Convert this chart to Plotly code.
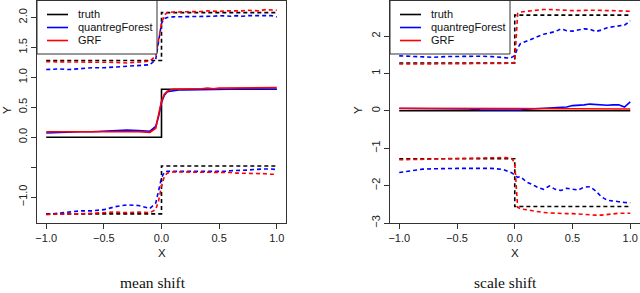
import plotly.graph_objects as go

W, H = 640, 293

# ---------------- data ----------------
x_grid = [-1.0, -0.9, -0.8, -0.7, -0.6, -0.5, -0.4, -0.3, -0.2, -0.1,
          -0.05, -0.025, 0.0, 0.025, 0.05,
          0.1, 0.15, 0.2, 0.25, 0.3, 0.35, 0.4, 0.45, 0.5, 0.55, 0.6, 0.65,
          0.7, 0.75, 0.8, 0.85, 0.9, 0.95, 1.0]
truth_x = [-1.0, 0.0, 1.0]

# mean shift panel
mean_truth_med = [0.0, 0.8, 0.8]
mean_truth_hi = [1.28, 2.08, 2.08]
mean_truth_lo = [-1.28, -0.48, -0.48]

mean_qrf_med = [0.07, 0.08, 0.09, 0.09, 0.09, 0.10, 0.11, 0.12, 0.11, 0.10,
                0.18, 0.35, 0.58, 0.70, 0.76,
                0.78, 0.79, 0.79, 0.79, 0.80, 0.80, 0.80, 0.80, 0.80, 0.80,
                0.80, 0.81, 0.81, 0.81, 0.80, 0.81, 0.80, 0.80, 0.80]
mean_grf_med = [0.09, 0.09, 0.10, 0.09, 0.09, 0.10, 0.10, 0.10, 0.09, 0.08,
                0.15, 0.38, 0.60, 0.72, 0.77,
                0.80, 0.80, 0.81, 0.81, 0.81, 0.81, 0.82, 0.81, 0.82, 0.82,
                0.82, 0.82, 0.82, 0.82, 0.82, 0.83, 0.82, 0.83, 0.83]
mean_qrf_hi = [1.13, 1.14, 1.13, 1.15, 1.16, 1.16, 1.17, 1.18, 1.19, 1.21,
               1.30, 1.60, 1.90, 1.98, 2.00,
               2.01, 2.01, 2.02, 2.01, 2.02, 2.02, 2.02, 2.02, 2.03, 2.02,
               2.02, 2.03, 2.02, 2.03, 2.03, 2.04, 2.04, 2.03, 2.01]
mean_grf_hi = [1.26, 1.26, 1.25, 1.26, 1.25, 1.25, 1.25, 1.24, 1.25, 1.27,
               1.36, 1.62, 1.90, 2.04, 2.08,
               2.09, 2.09, 2.10, 2.10, 2.10, 2.10, 2.11, 2.10, 2.10, 2.11,
               2.11, 2.10, 2.11, 2.12, 2.12, 2.11, 2.13, 2.12, 2.12]
mean_qrf_lo = [-1.29, -1.27, -1.25, -1.23, -1.23, -1.21, -1.16, -1.13, -1.14, -1.19,
               -1.10, -0.88, -0.68, -0.58, -0.57,
               -0.57, -0.57, -0.57, -0.57, -0.57, -0.58, -0.57, -0.57, -0.57, -0.57,
               -0.56, -0.56, -0.55, -0.55, -0.54, -0.53, -0.53, -0.53, -0.54]
mean_grf_lo = [-1.29, -1.28, -1.28, -1.28, -1.27, -1.27, -1.25, -1.26, -1.25, -1.26,
               -1.21, -1.06, -0.82, -0.65, -0.60,
               -0.58, -0.58, -0.58, -0.58, -0.58, -0.58, -0.58, -0.58, -0.58, -0.59,
               -0.59, -0.60, -0.60, -0.61, -0.61, -0.61, -0.61, -0.62, -0.62]

# scale shift panel
scale_truth_med = [0.0, 0.0, 0.0]
scale_truth_hi = [1.28, 2.56, 2.56]
scale_truth_lo = [-1.28, -2.56, -2.56]

scale_qrf_med = [0.06, 0.06, 0.06, 0.06, 0.06, 0.06, 0.05, 0.03, 0.03, 0.02,
                 0.03, 0.01, 0.02, 0.03, 0.02,
                 0.04, 0.05, 0.06, 0.07, 0.07, 0.08, 0.09, 0.10, 0.14, 0.14,
                 0.16, 0.18, 0.17, 0.16, 0.15, 0.16, 0.16, 0.10, 0.24]
scale_grf_med = [0.07, 0.07, 0.07, 0.07, 0.07, 0.07, 0.07, 0.07, 0.07, 0.07,
                 0.07, 0.07, 0.06, 0.06, 0.06,
                 0.06, 0.06, 0.06, 0.06, 0.06, 0.06, 0.06, 0.06, 0.06, 0.06,
                 0.06, 0.05, 0.05, 0.05, 0.05, 0.05, 0.05, 0.05, 0.05]
scale_qrf_hi = [1.47, 1.45, 1.44, 1.43, 1.45, 1.46, 1.46, 1.46, 1.45, 1.42,
                1.41, 1.43, 1.48, 1.68, 1.80,
                1.86, 1.93, 1.98, 2.05, 2.08, 2.12, 2.19, 2.14, 2.13, 2.16,
                2.19, 2.18, 2.12, 2.16, 2.22, 2.25, 2.27, 2.29, 2.41]
scale_grf_hi = [1.25, 1.25, 1.26, 1.26, 1.26, 1.26, 1.27, 1.27, 1.27, 1.27,
                1.27, 1.28, 1.30, 2.60, 2.64,
                2.66, 2.68, 2.70, 2.71, 2.71, 2.70, 2.69, 2.68, 2.68, 2.68,
                2.69, 2.69, 2.69, 2.68, 2.68, 2.68, 2.67, 2.67, 2.66]
scale_qrf_lo = [-1.65, -1.60, -1.56, -1.55, -1.54, -1.54, -1.54, -1.54, -1.54, -1.57,
                -1.62, -1.66, -1.72, -1.78, -1.76,
                -1.90, -1.97, -2.05, -2.10, -2.01, -2.10, -2.13, -2.07, -2.10, -2.12,
                -2.04, -2.03, -2.14, -2.30, -2.39, -2.42, -2.43, -2.45, -2.46]
scale_grf_lo = [-1.31, -1.31, -1.30, -1.29, -1.28, -1.27, -1.27, -1.27, -1.26, -1.25,
                -1.26, -1.28, -1.40, -2.58, -2.62,
                -2.65, -2.68, -2.70, -2.72, -2.73, -2.74, -2.74, -2.75, -2.75, -2.76,
                -2.78, -2.79, -2.79, -2.79, -2.77, -2.75, -2.74, -2.74, -2.74]

x_tickvals = [-1.0, -0.5, 0.0, 0.5, 1.0]
x_ticktext = ["\u22121.0", "\u22120.5", "0.0", "0.5", "1.0"]
mean_y_tickvals = [-1.0, -0.5, 0.0, 0.5, 1.0, 1.5, 2.0]
mean_y_ticktext = ["\u22121.0", "", "0.0", "0.5", "1.0", "1.5", "2.0"]
scale_y_tickvals = [-3, -2, -1, 0, 1, 2]
scale_y_ticktext = ["\u22123", "\u22122", "\u22121", "0", "1", "2"]

legend_labels = ["truth", "quantregForest", "GRF"]
panel_captions = ["mean shift", "scale shift"]

# ---------------- styling ----------------
C_TRUTH, C_QRF, C_GRF = "#000000", "#0000ff", "#ff0000"
AX = "#333333"
SANS = "Liberation Sans, Arial, sans-serif"
SERIF = "Liberation Serif, Times New Roman, serif"
DASH = "4px,3px"
LW = 1.6

fig = go.Figure()


def add_panel(xa, ya, t_med, t_hi, t_lo, q_med, q_hi, q_lo, g_med, g_hi, g_lo):
    for y, d in ((t_hi, DASH), (t_lo, DASH), (t_med, "solid")):
        fig.add_trace(go.Scatter(x=truth_x, y=y, mode="lines", xaxis=xa, yaxis=ya,
                                 line=dict(color=C_TRUTH, width=LW, dash=d, shape="hv")))
    for col, ys in ((C_QRF, (q_hi, q_lo, q_med)), (C_GRF, (g_hi, g_lo, g_med))):
        for i, y in enumerate(ys):
            fig.add_trace(go.Scatter(x=x_grid, y=y, mode="lines", xaxis=xa, yaxis=ya,
                                     line=dict(color=col, width=LW,
                                               dash=DASH if i < 2 else "solid")))


add_panel("x", "y", mean_truth_med, mean_truth_hi, mean_truth_lo,
          mean_qrf_med, mean_qrf_hi, mean_qrf_lo, mean_grf_med, mean_grf_hi, mean_grf_lo)
add_panel("x2", "y2", scale_truth_med, scale_truth_hi, scale_truth_lo,
          scale_qrf_med, scale_qrf_hi, scale_qrf_lo, scale_grf_med, scale_grf_hi, scale_grf_lo)


def px(xp):
    return xp / W


def py(yp):
    return (H - yp) / H


box_top, box_bot = 0.5, 223
L_left, L_right = 37, 286
R_left, R_right = 390, 639.5

common_x = dict(range=[-1.08, 1.08], tickvals=x_tickvals, ticktext=x_ticktext,
                ticks="outside", ticklen=5, tickcolor=AX, tickwidth=1,
                showline=True, mirror=True, linecolor=AX, linewidth=1,
                showgrid=False, zeroline=False, automargin=False,
                tickfont=dict(family=SANS, size=11, color="#222"))
common_y = dict(ticks="outside", ticklen=5, tickcolor=AX, tickwidth=1,
                showline=True, mirror=True, linecolor=AX, linewidth=1,
                showgrid=False, zeroline=False, automargin=False, tickangle=-90,
                tickfont=dict(family=SANS, size=11, color="#222"))

fig.update_layout(
    width=W, height=H, margin=dict(l=0, r=0, t=0, b=0),
    paper_bgcolor="white", plot_bgcolor="white", showlegend=False,
    xaxis=dict(domain=[px(L_left), px(L_right)], anchor="y", **common_x),
    yaxis=dict(domain=[py(box_bot), py(box_top)], anchor="x", range=[-1.433, 2.283],
               tickvals=mean_y_tickvals, ticktext=mean_y_ticktext, **common_y),
    xaxis2=dict(domain=[px(R_left), px(R_right)], anchor="y2", **common_x),
    yaxis2=dict(domain=[py(box_bot), py(box_top)], anchor="x2", range=[-3.0, 2.95],
                tickvals=scale_y_tickvals, ticktext=scale_y_ticktext, **common_y),
)

shapes = []
annotations = []
legend_colors = [C_TRUTH, C_QRF, C_GRF]
row_y = [14.5, 27.5, 40.5]
for (bx0, bx1, lx0, lx1, tx) in ((37, 157, 47, 68, 76), (390, 510, 400, 421, 429)):
    shapes.append(dict(type="rect", xref="paper", yref="paper",
                       x0=px(bx0), x1=px(bx1), y0=py(54), y1=py(0.5),
                       fillcolor="white", line=dict(color=AX, width=1), layer="above"))
    for lab, col, ry in zip(legend_labels, legend_colors, row_y):
        shapes.append(dict(type="line", xref="paper", yref="paper",
                           x0=px(lx0), x1=px(lx1), y0=py(ry), y1=py(ry),
                           line=dict(color=col, width=LW), layer="above"))
        annotations.append(dict(text=lab, xref="paper", yref="paper", x=px(tx), y=py(ry),
                                xanchor="left", yanchor="middle", showarrow=False,
                                font=dict(family=SANS, size=11, color="#111")))

for cx, ycx in ((162, 7), (514.7, 358)):
    annotations.append(dict(text="X", xref="paper", yref="paper", x=px(cx), y=py(253),
                            xanchor="center", yanchor="middle", showarrow=False,
                            font=dict(family=SANS, size=11.5, color="#111")))
    annotations.append(dict(text="Y", xref="paper", yref="paper", x=px(ycx), y=py(110),
                            xanchor="center", yanchor="middle", showarrow=False, textangle=-90,
                            font=dict(family=SANS, size=11.5, color="#111")))
for cap, capx in zip(panel_captions, (153, 505)):
    annotations.append(dict(text=cap, xref="paper", yref="paper", x=px(capx), y=py(292.5),
                            xanchor="center", yanchor="bottom", showarrow=False,
                            font=dict(family=SERIF, size=15.5, color="#111")))

fig.update_layout(shapes=shapes, annotations=annotations)
fig.write_html("out.html", config={"displayModeBar": False},
               post_script="document.body.style.margin='0px';document.body.style.overflow='hidden';")
